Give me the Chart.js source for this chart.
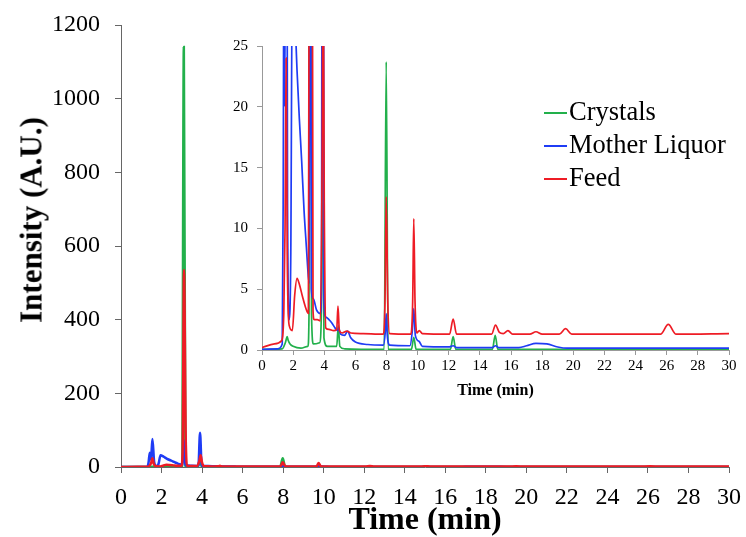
<!DOCTYPE html>
<html>
<head>
<meta charset="utf-8">
<script src="https://cdn.jsdelivr.net/npm/chart.js@4/dist/chart.umd.min.js"></script>
<style>
  body { margin: 0; background: #fff; }
  #wrap { position: relative; width: 746px; height: 537px; font-family: "Liberation Serif", serif; }
  #main { position: absolute; left: 0; top: 0; }
  #inset { position: absolute; left: 205px; top: 30px; }
  #ytitle {
    position: absolute; left: 31px; top: 220px;
    transform: translate(-50%, -50%) rotate(-90deg);
    font: bold 31px "Liberation Serif", serif; white-space: nowrap; line-height: 1;
  }
  #legend { position: absolute; left: 544px; top: 95px; font-size: 26.5px; line-height: 33px; }
  #legend div { display: flex; align-items: center; }
  #legend span.swatch { display: inline-block; width: 23px; height: 2px; margin-right: 2px; position: relative; top: 1px; }
</style>
</head>
<body>
<div id="wrap">
  <canvas id="main" width="746" height="537"></canvas>
  <canvas id="inset" width="536" height="375"></canvas>
  <div id="ytitle">Intensity (A.U.)</div>
  <div id="legend"></div>
</div>
<script>
// tick labels
const mainXTicks = [0, 2, 4, 6, 8, 10, 12, 14, 16, 18, 20, 22, 24, 26, 28, 30];
const mainYTicks = [0, 200, 400, 600, 800, 1000, 1200];
const insetYTicks = [0, 5, 10, 15, 20, 25];

const seriesNames = ["Crystals", "Mother Liquor", "Feed"];
const seriesColors = ["#22b04b", "#1f3cf5", "#ee1c25"];

// Crystals (green)
const crystalsTime = [0, 1.3, 1.5, 1.62, 1.68, 1.8, 2.0, 2.5, 2.95, 3.02, 3.1, 3.18, 3.3, 3.7, 3.82, 3.9, 3.98, 4.2, 4.8, 4.9, 5.0, 5.3,
  7.85, 7.98, 8.1, 9.6, 9.75, 9.9, 12.1, 12.28, 12.45, 14.8, 14.98, 15.15, 30];
const crystalsValue = [0.05, 0.1, 0.6, 1.1, 0.8, 0.5, 0.3, 0.15, 0.3, 3, 1140, 3, 0.5, 0.6, 3.5, 22, 1.0, 0.3, 0.3, 2.0, 0.3, 0.1,
  0.05, 23.7, 0.05, 0.05, 1.05, 0.05, 0.05, 1.1, 0.05, 0.05, 1.2, 0.05, 0.05];

// Mother Liquor (blue)
const motherTime = [0, 1.0, 1.3, 1.36, 1.42, 1.48, 1.55, 1.64, 1.75, 1.85, 1.95, 2.1, 2.25, 2.4, 2.55, 2.7, 2.85, 2.98, 3.04, 3.1, 3.17,
  3.3, 3.5, 3.75, 3.82, 3.9, 3.98, 4.1, 4.3, 4.5, 4.7, 4.85, 4.92, 5.05, 5.3, 5.5, 5.7, 6.0, 6.8, 7.8, 7.92, 7.98, 8.05, 8.2,
  9.5, 9.65, 9.75, 9.85, 10.1, 10.3, 12.0, 12.28, 12.5, 14.8, 15.0, 15.2, 15.8, 16.5, 17.0, 17.6, 18.3, 19.0, 19.6, 25, 30];
const motherValue = [0.05, 0.1, 0.5, 12, 39, 20, 76, 12, 2.5, 8, 32, 28, 23, 19, 15.5, 11.5, 8.5, 6, 5.5, 73, 5,
  4.2, 3.3, 3.0, 5, 93, 4, 2.7, 2.5, 2.2, 1.8, 1.6, 1.8, 1.3, 1.2, 1.55, 1.0, 0.65, 0.45, 0.4, 1.5, 3.0, 1.2, 0.4,
  0.35, 1.5, 3.4, 1.2, 0.7, 0.3, 0.25, 0.35, 0.2, 0.2, 0.35, 0.2, 0.2, 0.2, 0.35, 0.55, 0.5, 0.25, 0.15, 0.15, 0.15];

// Feed (red)
const feedTime = [0, 0.8, 1.25, 1.4, 1.48, 1.55, 1.62, 1.75, 1.95, 2.1, 2.25, 2.4, 2.6, 2.8, 2.98, 3.04, 3.11, 3.2, 3.28, 3.35,
  3.55, 3.75, 3.86, 3.93, 4.0, 4.1, 4.3, 4.6, 4.8, 4.88, 4.97, 5.15, 5.45, 5.7, 6.5, 7.8, 7.9, 7.98, 8.08, 8.2,
  9.55, 9.68, 9.75, 9.83, 9.95, 10.1, 10.3, 12.05, 12.28, 12.5, 14.75, 15.0, 15.25, 15.5, 15.8, 16.1, 17.2, 17.6, 18.0,
  19.1, 19.5, 19.9, 25.6, 26.1, 26.6, 30];
const feedValue = [0.2, 0.5, 0.75, 3, 10, 24, 8, 2, 1.6, 4.5, 5.9, 5.4, 4.4, 3.5, 3.0, 40, 535, 60, 3.2, 2.5,
  2.5, 2.4, 15, 32, 12, 1.8, 1.7, 1.6, 1.7, 3.6, 1.6, 1.4, 1.55, 1.4, 1.35, 1.3, 4, 12.6, 4, 1.35,
  1.3, 4, 10.8, 4, 1.4, 1.6, 1.35, 1.3, 2.55, 1.3, 1.3, 2.05, 1.45, 1.35, 1.6, 1.3, 1.3, 1.5, 1.3,
  1.3, 1.75, 1.3, 1.3, 2.1, 1.3, 1.35];

const seriesTimes = [crystalsTime, motherTime, feedTime];
const seriesValues = [crystalsValue, motherValue, feedValue];

function makeDatasets(width) {
  return seriesNames.map((name, i) => ({
    label: name,
    data: seriesTimes[i].map((t, j) => ({ x: t, y: seriesValues[i][j] })),
    borderColor: seriesColors[i],
    borderWidth: width,
    pointRadius: 0,
    cubicInterpolationMode: "monotone",
    fill: false,
    order: 2 - i, // feed on top
  }));
}

function fixedTicks(list) {
  return (scale) => { scale.ticks = list.map((v) => ({ value: v })); };
}
// fixed box size, and no extra room asked for the end labels
function fixHeight(h) {
  return (s) => { s.height = h; s.paddingLeft = 0; s.paddingRight = 0; };
}
function fixWidth(w) {
  return (s) => { s.width = w; s.paddingTop = 0; s.paddingBottom = 0; };
}
const plain = (v) => String(v);

const serif = "'Liberation Serif', serif";

// Main chart
new Chart(document.getElementById("main"), {
  type: "line",
  data: { datasets: makeDatasets(2.5) },
  options: {
    responsive: false,
    animation: false,
    layout: { padding: { top: 25, right: 17, left: 0, bottom: 0 } },
    plugins: { legend: { display: false }, tooltip: { enabled: false } },
    scales: {
      x: {
        type: "linear", min: 0, max: 30,
        afterBuildTicks: fixedTicks(mainXTicks),
        afterFit: fixHeight(70),
        grid: { drawOnChartArea: false, tickLength: 6, color: "#666" },
        border: { color: "#666", width: 1 },
        ticks: { color: "#000", padding: 10, maxRotation: 0, autoSkip: false, callback: plain,
          font: { family: serif, size: 24 } },
        title: { display: true, text: "Time (min)", color: "#000", padding: { top: 0, bottom: 0 },
          font: { family: serif, size: 32, weight: "bold", lineHeight: 1 } },
      },
      y: {
        min: 0, max: 1200,
        afterBuildTicks: fixedTicks(mainYTicks),
        afterFit: fixWidth(121),
        grid: { drawOnChartArea: false, tickLength: 6, color: "#666" },
        border: { color: "#666", width: 1 },
        ticks: { color: "#000", padding: 15, callback: plain, font: { family: serif, size: 24 } },
      },
    },
  },
});

// Inset chart (zoom of the baseline)
new Chart(document.getElementById("inset"), {
  type: "line",
  data: { datasets: makeDatasets(1.7) },
  options: {
    responsive: false,
    animation: false,
    layout: { padding: { top: 16, right: 12, left: 0, bottom: 0 } },
    plugins: { legend: { display: false }, tooltip: { enabled: false } },
    scales: {
      x: {
        type: "linear", min: 0, max: 30,
        afterBuildTicks: fixedTicks(mainXTicks),
        afterFit: fixHeight(55),
        grid: { drawOnChartArea: false, tickLength: 5, color: "#999" },
        border: { color: "#999", width: 1 },
        ticks: { color: "#000", padding: 2, maxRotation: 0, autoSkip: false, callback: plain,
          font: { family: serif, size: 15 } },
        title: { display: true, text: "Time (min)", color: "#000", padding: { top: 0, bottom: 6 },
          font: { family: serif, size: 16, weight: "bold", lineHeight: 1 } },
      },
      y: {
        min: 0, max: 25,
        afterBuildTicks: fixedTicks(insetYTicks),
        afterFit: fixWidth(57),
        grid: { drawOnChartArea: false, tickLength: 5, color: "#999" },
        border: { color: "#999", width: 1 },
        ticks: { color: "#000", padding: 9, callback: plain, font: { family: serif, size: 15 } },
      },
    },
  },
});

// Legend
const legend = document.getElementById("legend");
seriesNames.forEach((name, i) => {
  const row = document.createElement("div");
  const sw = document.createElement("span");
  sw.className = "swatch";
  sw.style.background = seriesColors[i];
  row.appendChild(sw);
  row.appendChild(document.createTextNode(name));
  legend.appendChild(row);
});
</script>
</body>
</html>
